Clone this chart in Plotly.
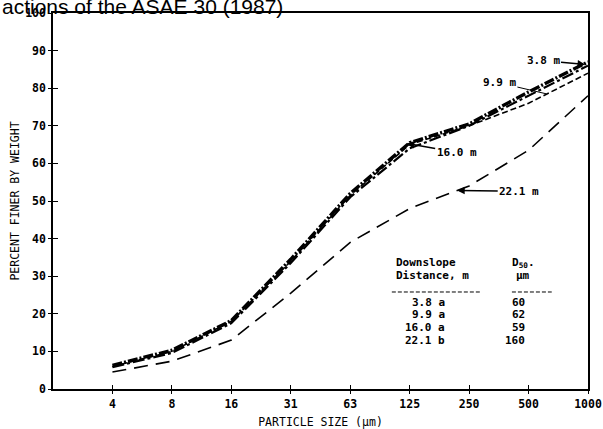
import plotly.graph_objects as go

# ---- data ----
sizes = ["4", "8", "16", "31", "63", "125", "250", "500", "1000"]
y_ticks = [0, 10, 20, 30, 40, 50, 60, 70, 80, 90, 100]
s38 = [6.3, 10.3, 18.2, 34.5, 52.0, 65.5, 70.5, 79.0, 87.0]
s99 = [6.0, 10.0, 18.0, 34.0, 51.5, 65.0, 70.0, 76.0, 84.0]
s160 = [5.8, 9.6, 17.5, 33.5, 51.0, 64.0, 70.0, 78.0, 86.0]
s221 = [4.5, 7.4, 13.0, 25.5, 39.0, 48.0, 54.0, 63.5, 78.0]
distances = ["3.8 a", "9.9 a", "16.0 a", "22.1 b"]
d50 = ["60", "62", "59", "160"]

xpos = list(range(1, len(sizes) + 1))
MONO = "DejaVu Sans Mono"

fig = go.Figure()
fig.add_trace(go.Scatter(x=xpos, y=s221, mode="lines",
                         line=dict(color="black", width=1.6, dash="14px,8px")))
fig.add_trace(go.Scatter(x=xpos, y=s99, mode="lines",
                         line=dict(color="black", width=1.6, dash="6px,3px")))
fig.add_trace(go.Scatter(x=xpos, y=s160, mode="lines",
                         line=dict(color="black", width=2.2, dash="12px,3px,3px,3px")))
fig.add_trace(go.Scatter(x=xpos, y=s38, mode="lines",
                         line=dict(color="black", width=3.4, dash="10px,2px,2px,2px")))
# helper invisible trace for overlay axes (inner tick marks)
fig.add_trace(go.Scatter(x=[None], y=[None], xaxis="x2", yaxis="y2",
                         mode="lines", hoverinfo="skip"))

tickfont = dict(family=MONO, size=11.5, color="black", weight="bold")
titlefont = dict(family=MONO, size=11.5, color="black")

fig.update_layout(
    width=603, height=429,
    margin=dict(l=53, r=15, t=13, b=40, autoexpand=False),
    paper_bgcolor="white", plot_bgcolor="white",
    showlegend=False,
    xaxis=dict(range=[0, 9], tickvals=xpos, ticktext=sizes, automargin=False,
               showgrid=False, zeroline=False,
               showline=True, linecolor="black", linewidth=1.5, mirror=True,
               ticks="outside", ticklen=3, tickcolor="black",
               tickfont=tickfont,
               title=dict(text="PARTICLE SIZE (µm)", font=titlefont, standoff=14)),
    yaxis=dict(range=[0, 100], tickvals=y_ticks, automargin=False,
               showgrid=False, zeroline=False,
               showline=True, linecolor="black", linewidth=1.5, mirror=True,
               ticks="outside", ticklen=3, tickcolor="black",
               tickfont=tickfont,
               title=dict(text="PERCENT FINER BY WEIGHT", font=titlefont, standoff=3)),
    xaxis2=dict(overlaying="x", anchor="y", range=[0, 9], tickvals=xpos, automargin=False,
                showticklabels=False, showgrid=False, zeroline=False, showline=False,
                ticks="inside", ticklen=4, tickcolor="black"),
    yaxis2=dict(overlaying="y", anchor="x", side="left", range=[0, 100], tickvals=y_ticks,
                automargin=False,
                showticklabels=False, showgrid=False, zeroline=False, showline=False,
                ticks="inside", ticklen=5, tickcolor="black"),
)

ann = []
# cropped source caption at top
ann.append(dict(xref="paper", yref="paper", x=-53 / 535, y=1.018, xanchor="left", yanchor="middle",
                text="actions of the ASAE 30 (1987)", showarrow=False,
                font=dict(family="Liberation Sans", size=21, color="black")))
labfont = dict(family=MONO, size=11, color="black", weight="bold")
# curve labels with arrows
ann.append(dict(x=8.95, y=86.3, ax=-42, ay=-4, text="3.8 m", showarrow=True,
                arrowhead=2, arrowsize=1, arrowwidth=1.5, arrowcolor="black", font=labfont))
ann.append(dict(x=8.3, y=78.5, ax=-47, ay=-11, text="9.9 m", showarrow=True,
                arrowhead=0, arrowwidth=1, arrowcolor="black", font=labfont))
ann.append(dict(x=5.95, y=65.3, ax=50, ay=9, text="16.0 m", showarrow=True,
                arrowhead=2, arrowwidth=1.5, arrowcolor="black", font=labfont))
ann.append(dict(x=6.8, y=52.8, ax=62, ay=1, text="22.1 m", showarrow=True,
                arrowhead=2, arrowwidth=1.5, arrowcolor="black", font=labfont))

tfont = dict(family=MONO, size=11, color="black", weight="bold")
ann.append(dict(x=6.28, y=33.6, text="Downslope", showarrow=False, font=tfont))
ann.append(dict(x=6.38, y=30.1, text="Distance, m", showarrow=False, font=tfont))
ann.append(dict(x=7.92, y=33.6, text="D<sub>50</sub>.", showarrow=False, font=tfont))
ann.append(dict(x=7.9, y=30.1, text="µm", showarrow=False, font=tfont))
row_y = [22.9, 19.7, 16.3, 13.0]
for d, v, yy in zip(distances, d50, row_y):
    ann.append(dict(x=6.63, y=yy, xanchor="right", text=d, showarrow=False, font=tfont))
    ann.append(dict(x=7.98, y=yy, xanchor="right", text=v, showarrow=False, font=tfont))
fig.update_layout(annotations=ann)

fig.add_shape(type="line", x0=5.7, x1=7.18, y0=25.8, y1=25.8,
              line=dict(color="black", width=1, dash="4px,2px"))
fig.add_shape(type="line", x0=7.72, x1=8.39, y0=25.8, y1=25.8,
              line=dict(color="black", width=1, dash="4px,2px"))

fig.write_html("out.html", config={"displayModeBar": False},
               post_script="document.body.style.margin='0';document.body.style.overflow='hidden';")
